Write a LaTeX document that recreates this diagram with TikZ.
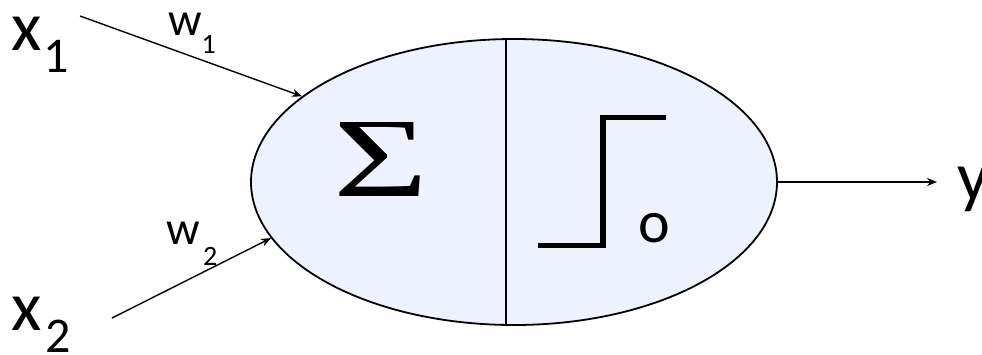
\documentclass[tikz,border=0pt]{standalone}
\usepackage{fontspec}
\setmainfont{Carlito}
\newfontfamily\sigfont{Liberation Serif}
\usepackage{graphicx}
\usetikzlibrary{shapes.geometric,arrows.meta}
\definecolor{cellfill}{RGB}{238,242,254}
\tikzset{
  lab/.style={anchor=base west, inner sep=0pt, outer sep=0pt},
  big/.style={font=\fontsize{70}{70}\selectfont},
  bigsub/.style={font=\fontsize{50}{50}\selectfont},
  wt/.style={font=\fontsize{47}{47}\selectfont},
  wtsub/.style={font=\fontsize{28}{28}\selectfont},
  arr/.style={line width=1.4pt, -{Stealth[length=10pt,width=8pt]}},
  stepline/.style={line width=5.5pt, line cap=butt, line join=miter},
}
\begin{document}
\begin{tikzpicture}[x=1pt,y=-1pt]
\useasboundingbox[fill=white] (0,0) rectangle (982,354);
% neuron body
\node[ellipse, draw, line width=1.8pt, fill=cellfill, minimum width=526pt, minimum height=286pt, inner sep=0pt] (neuron) at (514,182) {};
\coordinate (divtop) at (506,39.1);
\coordinate (divbot) at (506,324.9);
\draw[line width=1.8pt] (divtop) -- (divbot);
% sigma
\node[inner sep=0pt] (sig) at (380.5,159) {\resizebox*{95pt}{74pt}{\sigfont Σ}};
% step function
\coordinate (s1) at (538,245.5);
\coordinate (s2) at (603,245.5);
\coordinate (s3) at (603,117.5);
\coordinate (s4) at (666,117.5);
\draw[stepline] (s1) -- (s2) -- (s3) -- (s4);
\node[anchor=base, inner sep=0pt, font=\fontsize{60}{60}\selectfont] (o) at (654,242) {o};
% inputs
\node[lab, big] (x1) at (12,50) {x};
\node[lab, bigsub] (x1s) at (43,72) {1};
\node[lab, big] (x2) at (12,330) {x};
\node[lab, bigsub] (x2s) at (45,352) {2};
\node[lab, wt] (w1) at (168,35) {w};
\node[lab, wtsub] (w1s) at (201.5,53) {1};
\node[lab, wt] (w2) at (166,244) {w};
\node[lab, wtsub] (w2s) at (203,265) {2};
\node[lab, big] (y) at (957,200) {y};
% connectors
\coordinate (x1a) at (80,16);
\coordinate (x2a) at (112,318);
\coordinate (yout) at (937,182);
\draw[arr] (x1a) -- (neuron.158);
\draw[arr] (x2a) -- (neuron.193);
\draw[arr] (neuron.east) -- (yout);
\end{tikzpicture}
\end{document}
